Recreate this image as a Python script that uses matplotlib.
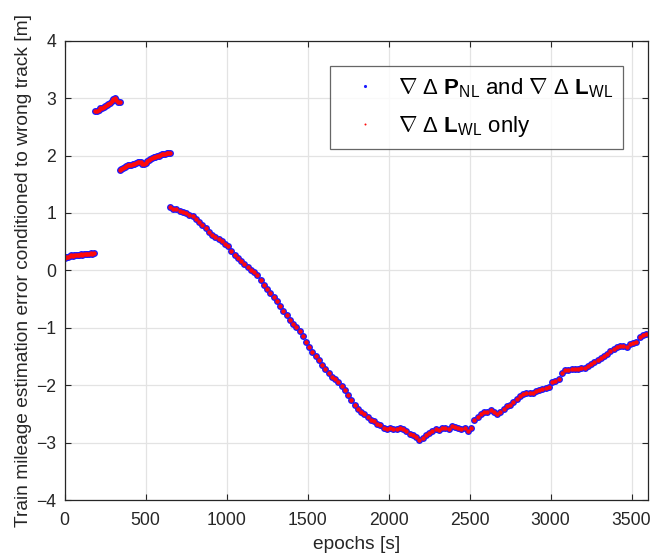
import numpy as np
import matplotlib
matplotlib.use("Agg")
import matplotlib.pyplot as plt

plt.rcParams["font.family"] = ["Liberation Sans", "DejaVu Sans"]
plt.rcParams["mathtext.fontset"] = "custom"
plt.rcParams["mathtext.rm"] = "Liberation Sans"
plt.rcParams["mathtext.bf"] = "Liberation Sans:bold"
plt.rcParams["mathtext.it"] = "Liberation Sans:italic"

#############################################
# data (epochs in s, error in m)

# segment 1
epochs_a = np.arange(0, 181, 10)
error_a = [0.22, 0.24, 0.23, 0.25, 0.26, 0.25, 0.26, 0.27, 0.26, 0.27,
           0.28, 0.27, 0.28, 0.29, 0.28, 0.29, 0.30, 0.29, 0.30]

# segment 2
epochs_b = np.arange(190, 341, 10)
error_b = [2.77, 2.78, 2.80, 2.82, 2.83, 2.85, 2.86, 2.88, 2.90, 2.92,
           2.95, 2.98, 3.01, 2.97, 2.94, 2.93]

# segment 3
epochs_c = np.arange(340, 651, 10)
error_c = [1.74, 1.77, 1.79, 1.80, 1.82, 1.83, 1.83, 1.84, 1.85, 1.86,
           1.87, 1.88, 1.89, 1.88, 1.86, 1.85, 1.87, 1.90, 1.92, 1.94,
           1.96, 1.97, 1.98, 1.99, 2.00, 2.01, 2.02, 2.03, 2.03, 2.04,
           2.04, 2.04]

# segment 4
epochs_d = np.arange(650, 3600, 20)
error_d = [1.10, 1.07, 1.06, 1.03, 1.01, 0.99, 0.97, 0.94, 0.90, 0.85,
           0.79, 0.74, 0.66, 0.62, 0.58, 0.54, 0.51, 0.46, 0.43, 0.34,
           0.27, 0.22, 0.17, 0.11, 0.05, 0.01, -0.03, -0.08, -0.16, -0.25,
           -0.32, -0.39, -0.46, -0.54, -0.62, -0.70, -0.78, -0.86, -0.93, -0.98,
           -1.05, -1.14, -1.25, -1.34, -1.42, -1.50, -1.57, -1.64, -1.71, -1.78,
           -1.85, -1.89, -1.94, -2.01, -2.09, -2.17, -2.26, -2.34, -2.41, -2.46,
           -2.51, -2.56, -2.61, -2.63, -2.68, -2.70, -2.74, -2.76, -2.75, -2.76,
           -2.76, -2.75, -2.77, -2.80, -2.85, -2.87, -2.90, -2.96, -2.92, -2.87,
           -2.84, -2.80, -2.77, -2.78, -2.74, -2.74, -2.76, -2.71, -2.72, -2.75,
           -2.77, -2.74, -2.79, -2.74, -2.60, -2.55, -2.51, -2.47, -2.46, -2.44,
           -2.46, -2.50, -2.47, -2.42, -2.37, -2.35, -2.29, -2.24, -2.18, -2.16,
           -2.14, -2.13, -2.14, -2.10, -2.09, -2.07, -2.05, -2.03, -1.95, -1.92,
           -1.89, -1.78, -1.74, -1.73, -1.72, -1.72, -1.71, -1.70, -1.70, -1.66,
           -1.63, -1.60, -1.57, -1.53, -1.49, -1.45, -1.41, -1.37, -1.34, -1.32,
           -1.32, -1.33, -1.29, -1.27, -1.25, -1.16, -1.12, -1.10]

x_ticks = [0, 500, 1000, 1500, 2000, 2500, 3000, 3500]
y_ticks = [-4, -3, -2, -1, 0, 1, 2, 3, 4]

label_both = r"$\nabla\ \Delta\ \mathbf{P}_{\rm NL}$ and $\nabla\ \Delta\ \mathbf{L}_{\rm WL}$"
label_wl = r"$\nabla\ \Delta\ \mathbf{L}_{\rm WL}$ only"

epochs = np.concatenate([epochs_a, epochs_b, epochs_c, epochs_d])
error = np.concatenate([error_a, error_b, error_c, error_d])

#############################################
# plot

fig = plt.figure(figsize=(6.63, 5.57), dpi=100)
ax = fig.add_axes([0.0975, 0.1023, 0.8795, 0.8247])

ax.plot(epochs, error, linestyle="none", marker="o", markersize=5.0,
        color="#1a1aff", markeredgewidth=0, label=label_both)
ax.plot(epochs, error, linestyle="none", marker="o", markersize=3.2,
        color="#ff0a0a", markeredgewidth=0, label=label_wl)

ax.set_xlim(0, 3600)
ax.set_ylim(-4, 4)
ax.set_xticks(x_ticks)
ax.set_yticks(y_ticks)

ax.grid(True, color="#e3e3e3", linewidth=0.9)
ax.set_axisbelow(True)

for spine in ax.spines.values():
    spine.set_color("#262626")
    spine.set_linewidth(0.9)

ax.tick_params(direction="in", length=4, width=0.8, colors="#262626",
               labelsize=12.7, top=True, right=True)
ax.tick_params(axis="x", pad=8.5)
ax.tick_params(axis="y", pad=6)

ax.set_xlabel("epochs [s]", fontsize=13.8, color="#262626", labelpad=5)
ax.set_ylabel("Train mileage estimation error conditioned to wrong track [m]",
              fontsize=13.8, color="#262626", labelpad=3)

leg = ax.legend(
    loc="upper right",
    bbox_to_anchor=(0.957, 0.945),
    fancybox=False,
    fontsize=16,
    markerscale=0.45,
    handletextpad=0.3,
    handlelength=2.3,
    borderpad=0.45,
    borderaxespad=0.0,
    labelspacing=0.65,
)
leg.get_frame().set_edgecolor("#404040")
leg.get_frame().set_linewidth(0.9)

plt.savefig("out.png", dpi=100)
plt.close()
